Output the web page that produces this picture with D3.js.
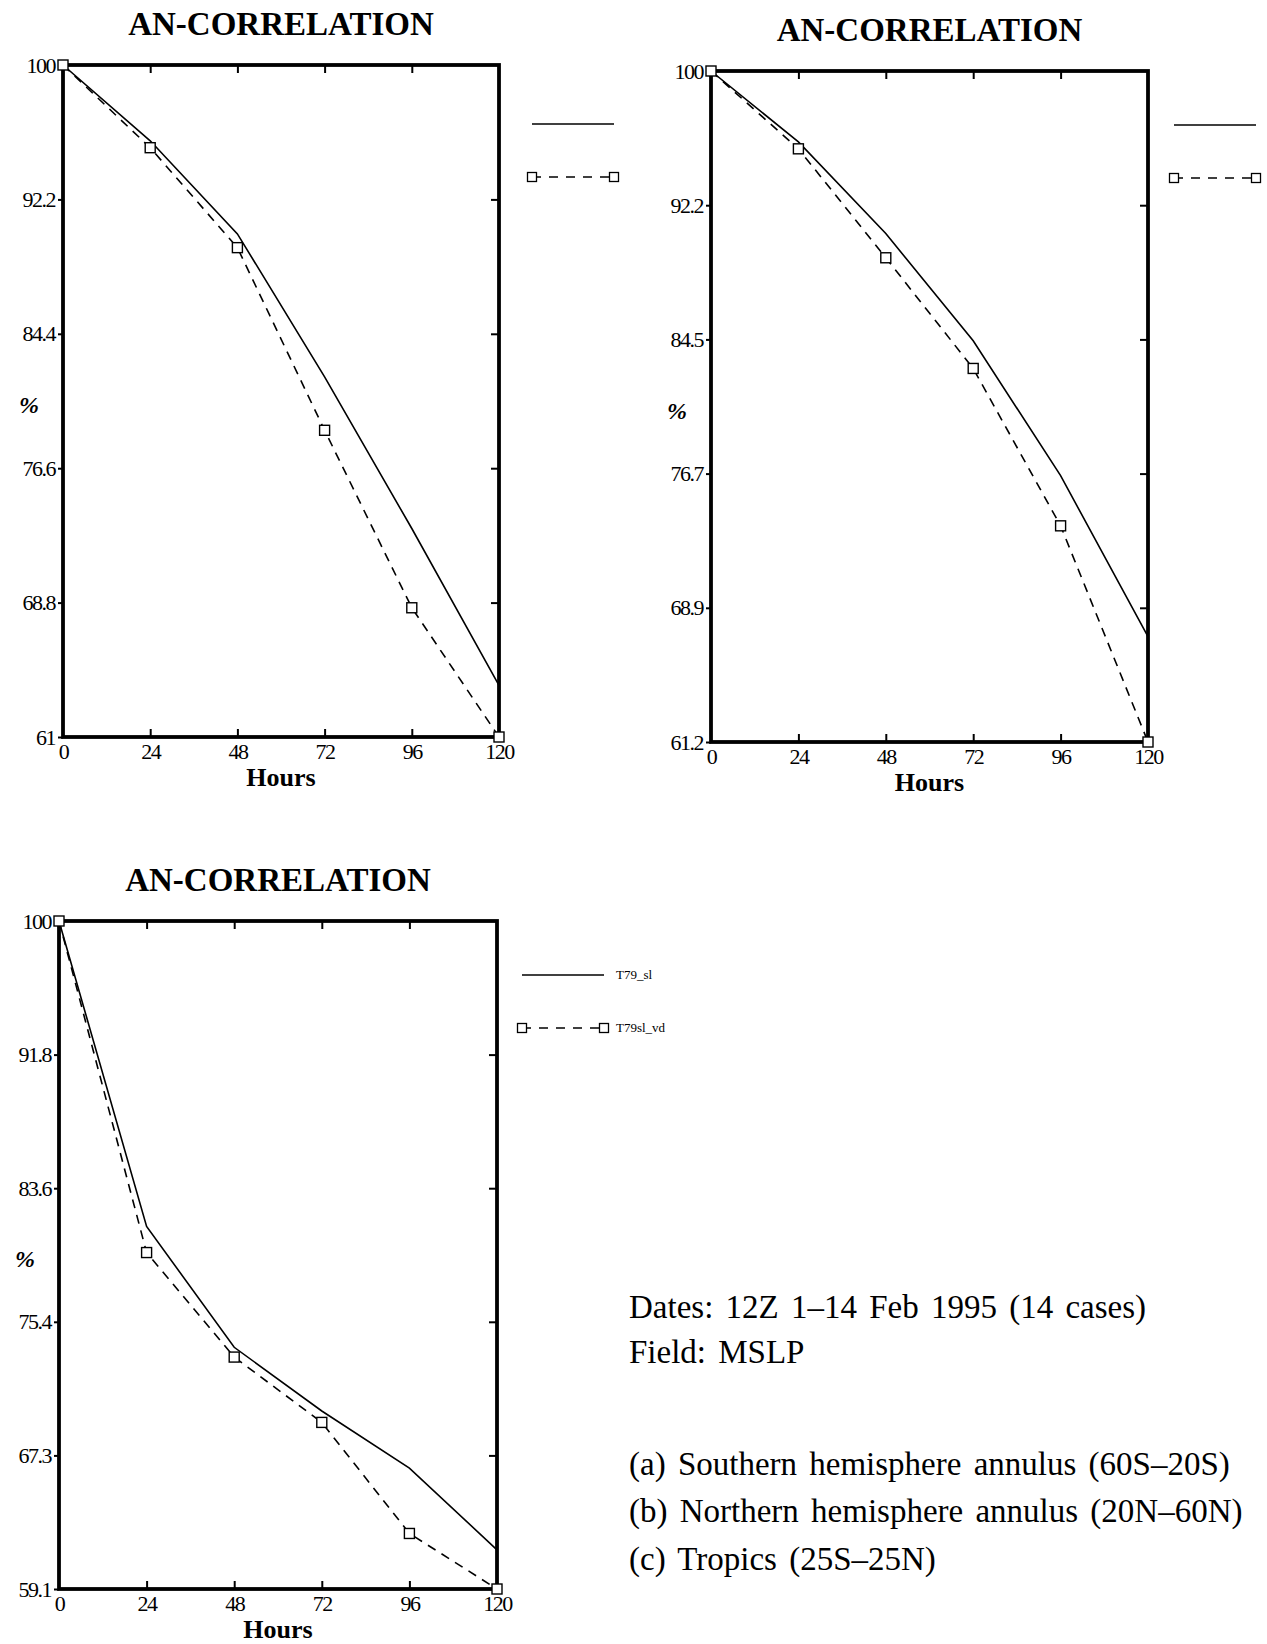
<!DOCTYPE html>
<html>
<head>
<meta charset="utf-8">
<script src="https://cdn.jsdelivr.net/npm/d3@7/dist/d3.min.js"></script>
<style>
body { margin: 0; background: #fff; }
svg { display: block; }
text { font-family: "Liberation Serif", "Times New Roman", serif; fill: #000; }
</style>
</head>
<body>
<svg width="1267" height="1644"></svg>
<script>
var hours = [0, 24, 48, 72, 96, 120];

// (a) Southern hemisphere annulus
var shSl = [100, 95.6, 90.2, 81.9, 73.1, 64.0];
var shVd = [100, 95.2, 89.4, 78.8, 68.5, 61.0];
var shTicks = ["61", "68.8", "76.6", "84.4", "92.2", "100"];

// (b) Northern hemisphere annulus
var nhSl = [100, 95.9, 90.6, 84.4, 76.6, 67.3];
var nhVd = [100, 95.5, 89.2, 82.8, 73.7, 61.2];
var nhTicks = ["61.2", "68.9", "76.7", "84.5", "92.2", "100"];

// (c) Tropics
var trSl = [100, 81.3, 73.9, 70.0, 66.5, 61.5];
var trVd = [100, 79.7, 73.3, 69.3, 62.5, 59.1];
var trTicks = ["59.1", "67.3", "75.4", "83.6", "91.8", "100"];

var seriesNames = ["T79_sl", "T79sl_vd"];
var title = "AN-CORRELATION";
var notes = [
    "Dates: 12Z 1\u201314 Feb 1995 (14 cases)",
    "Field: MSLP",
    "(a) Southern hemisphere annulus (60S\u201320S)",
    "(b) Northern hemisphere annulus (20N\u201360N)",
    "(c) Tropics (25S\u201325N)"
];

var svg = d3.select('svg');

function drawPanel(box, yTicks, sl, vd, showNames) {
    var yMin = +yTicks[0];
    var tickVals = yTicks.map((t, i) => yMin + i * (100 - yMin) / 5);
    var x = d3.scaleLinear().domain([0, 120]).range([box.left, box.right]);
    var y = d3.scaleLinear().domain([yMin, 100]).range([box.bottom, box.top]);
    var g = svg.append('g');

    // title
    g.append('text').attr('x', (box.left + box.right) / 2).attr('y', box.top - 30)
        .attr('text-anchor', 'middle').attr('font-size', '33px').attr('font-weight', 'bold')
        .text(title);

    // left axis with labels, ticks outward
    var left = g.append('g').attr('transform', 'translate(' + box.left + ',0)')
        .call(d3.axisLeft(y).tickValues(tickVals).tickSize(5).tickPadding(3)
            .tickFormat((d, i) => yTicks[i]));
    // bottom axis with labels, ticks inward
    var bottom = g.append('g').attr('transform', 'translate(0,' + box.bottom + ')')
        .call(d3.axisBottom(x).tickValues(hours).tickSize(-8).tickPadding(6));
    // top / right inner ticks
    var top = g.append('g').attr('transform', 'translate(0,' + box.top + ')')
        .call(d3.axisTop(x).tickValues(hours.slice(1, -1)).tickSize(-8).tickFormat(''));
    var right = g.append('g').attr('transform', 'translate(' + box.right + ',0)')
        .call(d3.axisRight(y).tickValues(tickVals.slice(1, -1)).tickSize(-8).tickFormat(''));

    [left, bottom, top, right].forEach(a => {
        a.select('.domain').remove();
        a.selectAll('line').attr('stroke', '#000').attr('stroke-width', 2);
        a.selectAll('text').attr('font-family', '"Liberation Serif", serif')
            .attr('font-size', '22px').attr('letter-spacing', '-1.5px').attr('fill', '#000');
    });
    bottom.selectAll('.tick').filter(d => d === 0 || d === 120).select('line').remove();

    // frame
    g.append('rect').attr('x', box.left).attr('y', box.top)
        .attr('width', box.right - box.left).attr('height', box.bottom - box.top)
        .attr('fill', 'none').attr('stroke', '#000').attr('stroke-width', 3.8);

    var line = d3.line().x((d, i) => x(hours[i])).y(d => y(d));

    g.append('path').datum(sl).attr('d', line)
        .attr('fill', 'none').attr('stroke', '#000').attr('stroke-width', 1.6);
    g.append('path').datum(vd).attr('d', line)
        .attr('fill', 'none').attr('stroke', '#000').attr('stroke-width', 1.6)
        .attr('stroke-dasharray', '9,7');
    g.selectAll('.mk').data(vd).enter().append('rect').attr('class', 'mk')
        .attr('x', (d, i) => x(hours[i]) - 5).attr('y', d => y(d) - 5)
        .attr('width', 10).attr('height', 10)
        .attr('fill', '#fff').attr('stroke', '#000').attr('stroke-width', 1.4);

    // axis titles
    g.append('text').attr('x', (box.left + box.right) / 2).attr('y', box.bottom + 49)
        .attr('text-anchor', 'middle').attr('font-size', '26px').attr('font-weight', 'bold')
        .text('Hours');
    g.append('text').attr('x', box.left - 44).attr('y', (box.top + box.bottom) / 2 + 12)
        .attr('font-size', '24px').attr('font-style', 'italic').attr('font-weight', 'bold')
        .text('%');

    // legend
    var lg = g.append('g').attr('transform', 'translate(' + box.lx + ',' + box.ly + ')');
    lg.append('line').attr('x1', 0).attr('x2', 82).attr('y1', 0).attr('y2', 0)
        .attr('stroke', '#000').attr('stroke-width', 1.6);
    lg.append('line').attr('x1', 0).attr('x2', 82).attr('y1', 53).attr('y2', 53)
        .attr('stroke', '#000').attr('stroke-width', 1.6).attr('stroke-dasharray', '9,8');
    [0, 82].forEach(px => {
        lg.append('rect').attr('x', px - 4.5).attr('y', 48.5).attr('width', 9).attr('height', 9)
            .attr('fill', '#fff').attr('stroke', '#000').attr('stroke-width', 1.3);
    });
    if (showNames) {
        lg.selectAll('.nm').data(seriesNames).enter().append('text').attr('class', 'nm')
            .attr('x', 94).attr('y', (d, i) => i * 53 + 4)
            .attr('font-size', '13px').text(d => d);
    }
}

drawPanel({left: 63, right: 499, top: 65, bottom: 737, lx: 532, ly: 124}, shTicks, shSl, shVd, false);
drawPanel({left: 711, right: 1148, top: 71, bottom: 742, lx: 1174, ly: 125}, nhTicks, nhSl, nhVd, false);
drawPanel({left: 59, right: 497, top: 921, bottom: 1589, lx: 522, ly: 975}, trTicks, trSl, trVd, true);

// notes block
var noteY = [1318, 1363, 1475, 1522, 1570];
svg.append('g').selectAll('text').data(notes).enter().append('text')
    .attr('x', 629).attr('y', (d, i) => noteY[i])
    .attr('font-size', '33px').attr('word-spacing', '4px')
    .text(d => d);
</script>
</body>
</html>
